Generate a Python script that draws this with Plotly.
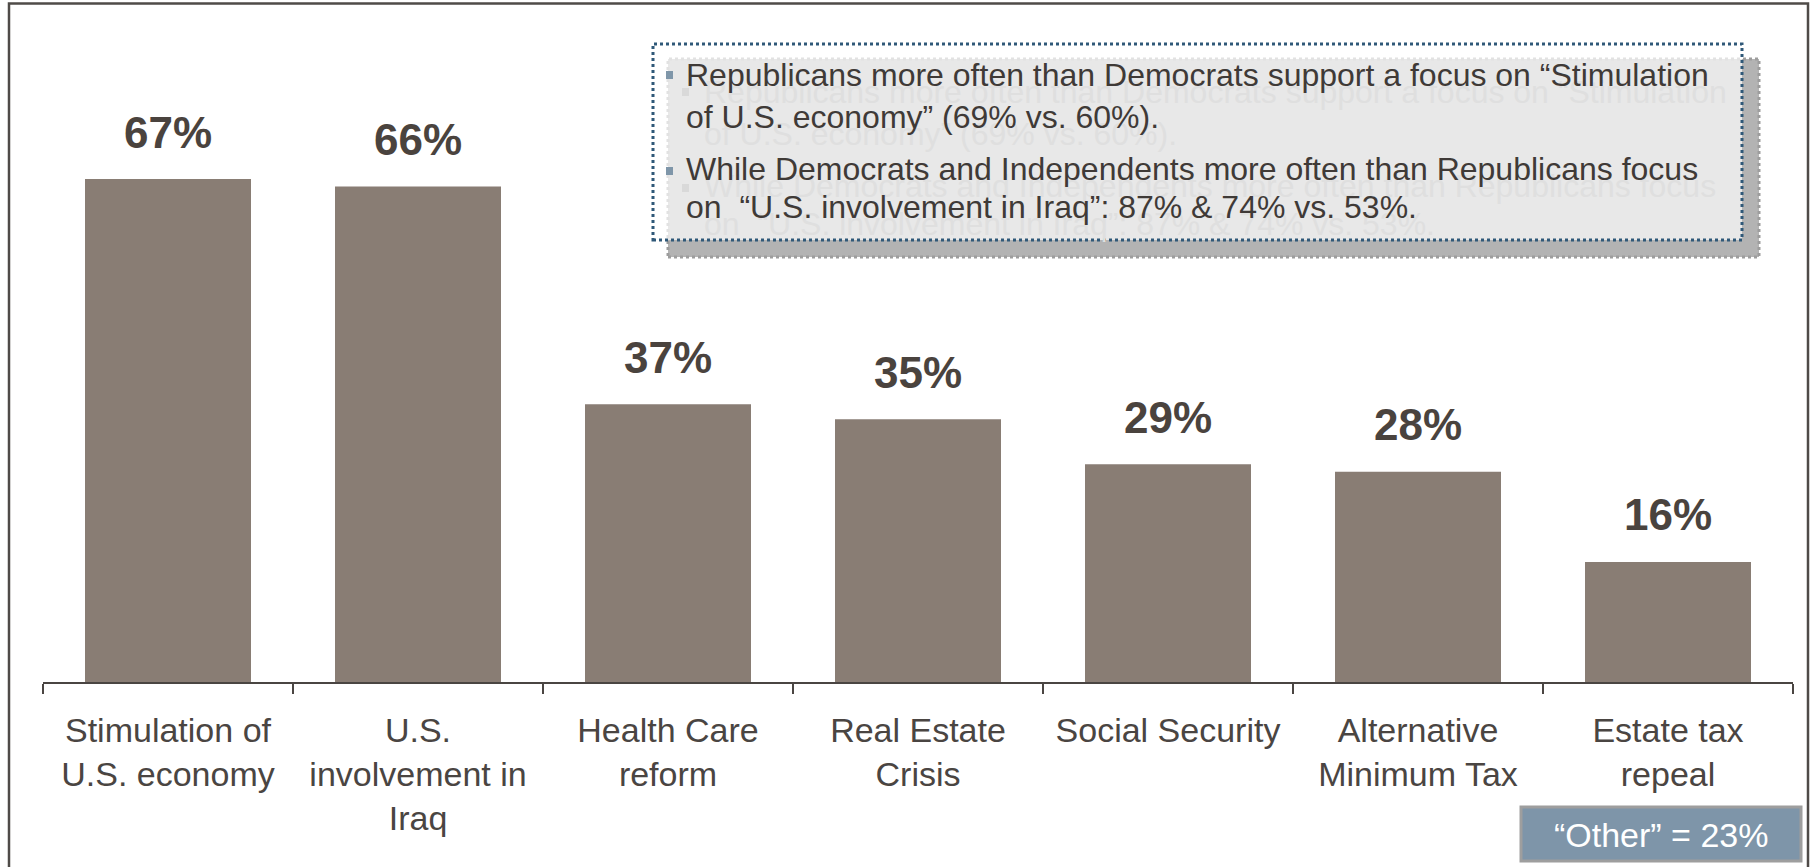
import plotly.graph_objects as go

categories = ["Stimulation of<br>U.S. economy", "U.S.<br>involvement in<br>Iraq", "Health Care<br>reform",
              "Real Estate<br>Crisis", "Social Security", "Alternative<br>Minimum Tax", "Estate tax<br>repeal"]
values = [67, 66, 37, 35, 29, 28, 16]
value_labels = ["67%", "66%", "37%", "35%", "29%", "28%", "16%"]

note_lines = [
    "Republicans more often than Democrats support a focus on “Stimulation",
    "of U.S. economy” (69% vs. 60%).",
    "While Democrats and Independents more often than Republicans focus",
    "on \u00a0“U.S. involvement in Iraq”: 87% & 74% vs. 53%.",
]
other_text = "“Other” = 23%"

W, H = 1812, 867
L, R, T, B = 43, 19, 119, 185
PW, PH = W - L - R, H - T - B
YMAX = 75

def px(x):
    return (x - L) / PW

def py(y):
    return (H - B - y) / PH

FONT = "Liberation Sans, Arial, sans-serif"
DARK = "#4a4542"

fig = go.Figure()
fig.add_trace(go.Bar(x=categories, y=values, marker=dict(color="#897d74", line=dict(width=0)),
                     hoverinfo="skip"))

annotations = []
for c, v, t in zip(categories, values, value_labels):
    annotations.append(dict(x=c, y=v, xref="x", yref="y", text=t, showarrow=False,
                            yanchor="middle", yshift=47,
                            font=dict(family=FONT, size=44, color="#4a433e", weight="bold")))

baselines = [86, 128, 180, 218]
fs = 32
# ghost (shadow) text
for line, b in zip(note_lines, baselines):
    annotations.append(dict(x=px(686 + 16), y=py(b + 17 - 0.35 * fs), xref="paper", yref="paper",
                            text=line, showarrow=False, xanchor="left", yanchor="middle",
                            font=dict(family=FONT, size=fs, color="#dfdfdf")))
for line, b in zip(note_lines, baselines):
    annotations.append(dict(x=px(684), y=py(b - 0.35 * fs), xref="paper", yref="paper",
                            text=line, showarrow=False, xanchor="left", yanchor="middle",
                            font=dict(family=FONT, size=fs, color="#3f3a37")))

annotations.append(dict(x=px(1660.5), y=py(846.7 - 0.35 * 34), xref="paper", yref="paper",
                        text=other_text, showarrow=False, xanchor="center", yanchor="middle",
                        font=dict(family=FONT, size=34, color="white")))

shapes = [
    # outer frame
    dict(type="rect", xref="paper", yref="paper", x0=px(9), x1=px(1808), y0=py(900), y1=py(3.5),
         line=dict(color="#4f4b48", width=2.5), fillcolor="rgba(0,0,0,0)", layer="below"),
    # shadow box
    dict(type="rect", xref="paper", yref="paper", x0=px(668), x1=px(1759), y0=py(257), y1=py(59),
         line=dict(color="#9d9d9d", width=3, dash="dot"), fillcolor="#b3b3b3"),
    # main box
    dict(type="rect", xref="paper", yref="paper", x0=px(653), x1=px(1742), y0=py(240), y1=py(44),
         line=dict(color="#2f5878", width=3, dash="dot"), fillcolor="rgba(255,255,255,0.7)"),
]
for by in [71, 167]:
    shapes.append(dict(type="rect", xref="paper", yref="paper", x0=px(666 + 16), x1=px(673 + 16),
                       y0=py(by + 8 + 17), y1=py(by + 17), line=dict(width=0), fillcolor="#d9d9d9"))
    shapes.append(dict(type="rect", xref="paper", yref="paper", x0=px(666), x1=px(673),
                       y0=py(by + 8), y1=py(by), line=dict(width=0), fillcolor="#7f96a9"))
# Other box
shapes.append(dict(type="rect", xref="paper", yref="paper", x0=px(1521), x1=px(1801), y0=py(861), y1=py(807),
                   line=dict(color="#9e9e9e", width=3), fillcolor="#7e95a9"))

fig.update_layout(
    width=W, height=H,
    margin=dict(l=L, r=R, t=T, b=B),
    paper_bgcolor="white", plot_bgcolor="white",
    bargap=0.336,
    showlegend=False,
    xaxis=dict(type="category", showline=True, linecolor=DARK, linewidth=2,
               ticks="outside", tickson="boundaries", ticklen=10, tickwidth=2, tickcolor=DARK,
               tickfont=dict(family=FONT, size=34, color=DARK), ticklabelstandoff=17,
               showgrid=False, zeroline=False, fixedrange=True),
    yaxis=dict(visible=False, range=[0, YMAX], showgrid=False, zeroline=False, fixedrange=True),
    annotations=annotations,
    shapes=shapes,
)

fig.write_html("out.html")
